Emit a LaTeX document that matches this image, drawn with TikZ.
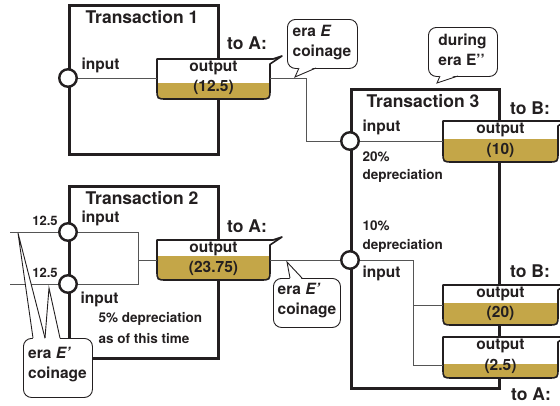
\documentclass[tikz,border=0pt]{standalone}
\usepackage{fontspec}
\setmainfont{TeX Gyre Heros}
\definecolor{ink}{RGB}{35,31,32}
\definecolor{gold}{RGB}{196,166,72}
\definecolor{wirec}{RGB}{85,85,85}
\tikzset{
  tbox/.style={draw=ink, line width=3pt, inner sep=0pt, anchor=north west},
  port/.style={circle, draw=ink, fill=white, line width=2.4pt, minimum size=17.5pt, inner sep=0pt},
  wire/.style={draw=wirec, line width=0.9pt},
  bk/.style={draw=ink, line width=1.6pt, line join=round},
  cl/.style={draw=ink, line width=0.9pt},
  callout/.style={draw=ink, line width=0.9pt, fill=white, rounded corners=8pt, inner sep=0pt, anchor=north west},
  ttl/.style={font=\fontsize{17.5}{20}\selectfont\bfseries, text=ink},
  lbl/.style={font=\fontsize{15.5}{20}\selectfont\bfseries, text=ink},
  sml/.style={font=\fontsize{13.5}{20}\selectfont\bfseries, text=ink},
  tiny/.style={font=\fontsize{13}{16}\selectfont\bfseries, text=ink},
}
% #1 name, #2 L, #3 T, #4 R, #5 B, #6 fill level, #7 value
\newcommand\bkt[7]{%
  \node[inner sep=0pt, minimum width={(#4-#2)*1pt}, minimum height={(#5-#3)*1pt}] (#1) at ({(#2+#4)/2},{(#3+#5)/2}) {};
  \fill[white] (#2,#3) -- (#2,#5-10) .. controls (#2,#5) .. (#2+10,#5) -- (#4-10,#5) .. controls (#4,#5) .. (#4,#5-10) -- (#4,#3) -- cycle;
  \fill[gold] (#2,#6) -- (#2,#5-10) .. controls (#2,#5) .. (#2+10,#5) -- (#4-10,#5) .. controls (#4,#5) .. (#4,#5-10) -- (#4,#6) -- cycle;
  \draw[bk] (#4+3,#3) -- (#2,#3) -- (#2,#5-10) .. controls (#2,#5) .. (#2+10,#5) -- (#4-10,#5) .. controls (#4,#5) .. (#4,#5-10) -- (#4,#3+5) -- (#4+12,#3-3) -- cycle;
  \node[lbl] (#1o) at ({(#2+#4)/2},#3+9) {output};
  \node[lbl] (#1v) at ({(#2+#4)/2},#5-12) {(#7)};
}
\begin{document}
\begin{tikzpicture}[x=1pt,y=-1pt]
\useasboundingbox (0,0) rectangle (560,405);
% transaction boxes
\node[tbox, minimum width=149pt, minimum height=149pt] (t1) at (68,4) {};
\node[tbox, minimum width=149pt, minimum height=172pt] (t2) at (68,185) {};
\node[tbox, minimum width=148pt, minimum height=299pt] (t3) at (350,88) {};
% buckets
\bkt{b1}{157}{59}{270}{99}{83}{12.5}
\bkt{b2}{157}{240}{270}{280}{256}{23.75}
\bkt{b3}{443}{121}{558}{162}{139}{10}
\bkt{b4}{443}{285}{558}{325}{303}{20}
\bkt{b5}{443}{337}{558}{378}{364}{2.5}
% ports
\node[port] (p1) at (68,78) {};
\node[port] (p2a) at (68,232) {};
\node[port] (p2b) at (68,284) {};
\node[port] (p3a) at (350,141) {};
\node[port] (p3b) at (350,260) {};
% wire points
\coordinate (a1) at (10,232);
\coordinate (a2) at (10,284);
\coordinate (jt) at (138,232);
\coordinate (jb) at (138,284);
\coordinate (bend1) at (306,78);
\coordinate (j3) at (413,260);
\coordinate (b5in) at (443,365);
% wires
\draw[wire] (p1) -- (p1 -| b1.west);
\draw[wire] (p1 -| b1.east) -- (bend1) |- (p3a);
\draw[wire] (a1) -- (p2a);
\draw[wire] (a2) -- (p2b);
\draw[wire] (p2a) -- (jt) -- (jb) -- (p2b);
\draw[wire] (jt |- b2.west) -- (b2.west);
\draw[wire] (b2.east) -- (p3b);
\draw[wire] (p3a) -- (p3a -| b3.west);
\draw[wire] (p3b) -- (j3) |- (b4.west);
\draw[wire] (j3) |- (b5in);
% callouts
\node[callout, minimum width=70pt, minimum height=49pt] (k1) at (287,19) {};
\coordinate (k1t) at (295,77);
\fill[white] (299,66.5) -- (k1t) -- (316,66.5) -- cycle;
\draw[cl] (299,68) -- (k1t) -- (316,68);
\node[lbl, align=left] at (322,42.5) {era \textit{E}\\coinage};

\node[callout, minimum width=69pt, minimum height=49pt] (k2) at (428,27) {};
\coordinate (k2t) at (437,83);
\fill[white] (440,74.5) -- (k2t) -- (458,74.5) -- cycle;
\draw[cl] (440,76) -- (k2t) -- (458,76);
\node[lbl, align=left] at (462.5,50) {during\\era E’’};

\node[callout, minimum width=67pt, minimum height=49pt] (k3) at (273,278) {};
\coordinate (k3t) at (287,262);
\fill[white] (290,279.5) -- (k3t) -- (302,279.5) -- cycle;
\draw[cl] (290,278) -- (k3t) -- (302,278);
\node[lbl, align=left] at (307,301) {era \textit{E’}\\coinage};

\node[callout, minimum width=69pt, minimum height=59pt] (k4) at (23,338) {};
\coordinate (k4a) at (18,233);
\coordinate (k4b) at (49,288);
\fill[white] (33,339.5) -- (k4a) -- (45,339.5) -- cycle;
\fill[white] (45,339.5) -- (k4b) -- (60,339.5) -- cycle;
\draw[cl] (33,338) -- (k4a) -- (45,338);
\draw[cl] (45,338) -- (k4b) -- (60,338);
\node[lbl, align=left] at (57.5,365) {era \textit{E’}\\coinage};
% titles and labels
\node[ttl] (n1) at (142,17) {Transaction 1};
\node[ttl] (n2) at (142,198) {Transaction 2};
\node[ttl] (n3) at (423,101) {Transaction 3};
\node[ttl] (ta1) at (247,43) {to A:};
\node[ttl] (ta2) at (247,226) {to A:};
\node[ttl] (tb1) at (530,108) {to B:};
\node[ttl] (tb2) at (530,271) {to B:};
\node[ttl] (ta3) at (531,394) {to A:};
\node[lbl, anchor=west] (i1) at (78,65) {input};
\node[lbl, anchor=west] (i2) at (78,218) {input};
\node[lbl, anchor=west] (i3) at (77,299) {input};
\node[lbl, anchor=west] (i4) at (359,127) {input};
\node[lbl, anchor=west] (i5) at (359,273) {input};
\node[sml, anchor=west] (d1) at (359,157) {20\%};
\node[sml, anchor=west] (d2) at (359,176) {depreciation};
\node[sml, anchor=west] (d3) at (359,226) {10\%};
\node[sml, anchor=west] (d4) at (359,246) {depreciation};
\node[sml, anchor=west] (d5) at (95,319) {5\% depreciation};
\node[sml, anchor=west] (d6) at (95,339) {as of this time};
\node[tiny] (v1) at (45,221) {12.5};
\node[tiny] (v2) at (45,273) {12.5};
\end{tikzpicture}
\end{document}
